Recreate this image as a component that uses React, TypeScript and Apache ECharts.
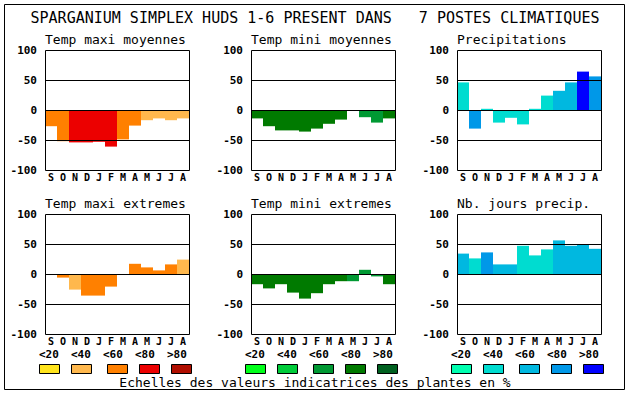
import React, { useEffect, useRef } from 'react';
import * as echarts from 'echarts';

const MONTHS = ['S', 'O', 'N', 'D', 'J', 'F', 'M', 'A', 'M', 'J', 'J', 'A'];
const MAIN_TITLE = 'SPARGANIUM SIMPLEX HUDS 1-6 PRESENT DANS   7 POSTES CLIMATIQUES';
const PANEL_TITLES = [
  'Temp maxi moyennes',
  'Temp mini moyennes',
  'Precipitations',
  'Temp maxi extremes',
  'Temp mini extremes',
  'Nb. jours precip.',
];
const CAPTION = 'Echelles des valeurs indicatrices des plantes en %';
const LEGEND_LABELS = ['<20', '<40', '<60', '<80', '>80'];

// values (percent) and class index (0..4 -> <20 ... >80)
const tempMaxiMoy = [-27, -52, -54, -54, -53, -61, -49, -26, -17, -14, -17, -14];
const tempMaxiMoyCls = [2, 2, 3, 3, 3, 3, 2, 2, 1, 1, 1, 1];
const tempMiniMoy = [-14, -27, -34, -34, -36, -31, -23, -16, 0, -12, -21, -14];
const tempMiniMoyCls = [3, 3, 3, 3, 3, 3, 3, 3, 3, 2, 2, 3];
const precip = [46, -31, 2, -21, -13, -24, 2, 24, 32, 46, 64, 56];
const precipCls = [1, 3, 1, 1, 1, 1, 1, 1, 2, 2, 4, 3];
const tempMaxiExt = [0, -6, -26, -36, -36, -21, 0, 17, 11, 6, 16, 24];
const tempMaxiExtCls = [2, 2, 1, 2, 2, 2, 2, 2, 2, 2, 2, 1];
const tempMiniExt = [-17, -24, -17, -31, -41, -32, -17, -12, -12, 7, -4, -17];
const tempMiniExtCls = [3, 3, 3, 3, 3, 3, 3, 3, 2, 2, 2, 3];
const nbJours = [34, 26, 36, 16, 16, 47, 31, 41, 56, 47, 49, 42];
const nbJoursCls = [2, 1, 3, 2, 2, 1, 1, 1, 2, 2, 2, 2];

const ORANGES = ['#ffe41c', '#ffb84d', '#ff8000', '#ec0000', '#b00e00'];
const GREENS = ['#00ff1a', '#00cc3a', '#009933', '#007a00', '#006020'];
const BLUES = ['#00ffb0', '#00dcd0', '#00b8e0', '#0098e8', '#0000ff'];

const PANEL_VALUES = [tempMaxiMoy, tempMiniMoy, precip, tempMaxiExt, tempMiniExt, nbJours];
const PANEL_CLASSES = [tempMaxiMoyCls, tempMiniMoyCls, precipCls, tempMaxiExtCls, tempMiniExtCls, nbJoursCls];
const PANEL_PALETTES = [ORANGES, GREENS, BLUES, ORANGES, GREENS, BLUES];
const GROUP_PALETTES = [ORANGES, GREENS, BLUES];

// layout
const COL_LEFT = [45, 251, 457];
const ROW_TOP = [50, 214];
const PW = 144;
const PH = 120;
const MONO = '"DejaVu Sans Mono", "Liberation Mono", monospace';
const SWATCH_OFFSETS = [0, 32, 68, 100, 132];
const LABEL_OFFSETS = [0, 32, 64, 96, 128];

export default function App() {
  const ref = useRef<HTMLDivElement>(null);

  useEffect(() => {
    if (!ref.current) return;
    const chart = echarts.init(ref.current, undefined, { renderer: 'svg' });

    const grids: any[] = [];
    const xAxes: any[] = [];
    const yAxes: any[] = [];
    const series: any[] = [];
    const graphics: any[] = [];

    graphics.push({
      type: 'rect',
      shape: { x: 4.5, y: 4.5, width: 620, height: 385 },
      style: { fill: 'none', stroke: '#000', lineWidth: 1 },
      z: 100,
    });
    graphics.push({
      type: 'text',
      x: 315,
      y: 18,
      style: {
        text: MAIN_TITLE,
        font: `15px ${MONO}`,
        fill: '#000',
        align: 'center',
        verticalAlign: 'middle',
        textAlign: 'center',
        textVerticalAlign: 'middle',
      },
      z: 100,
    });

    for (let i = 0; i < 6; i++) {
      const left = COL_LEFT[i % 3];
      const top = ROW_TOP[Math.floor(i / 3)];
      grids.push({ left, top, width: PW, height: PH, containLabel: false });
      xAxes.push({
        type: 'category',
        gridIndex: i,
        data: MONTHS,
        axisTick: { show: false },
        axisLine: { show: false },
        splitLine: { show: false },
        axisLabel: {
          interval: 0,
          margin: 2,
          color: '#000',
          fontFamily: MONO,
          fontWeight: 'bold',
          fontSize: 10,
        },
      });
      yAxes.push({
        type: 'value',
        gridIndex: i,
        min: -100,
        max: 100,
        interval: 50,
        axisTick: { show: false },
        axisLine: { show: false },
        splitLine: { show: false },
        axisLabel: {
          margin: 8,
          color: '#000',
          fontFamily: MONO,
          fontWeight: 'bold',
          fontSize: 11,
        },
      });
      const pal = PANEL_PALETTES[i];
      const cls = PANEL_CLASSES[i];
      series.push({
        type: 'bar',
        xAxisIndex: i,
        yAxisIndex: i,
        barWidth: '100%',
        barCategoryGap: 0,
        silent: true,
        data: PANEL_VALUES[i].map((v, j) => ({ value: v, itemStyle: { color: pal[cls[j]] } })),
        markLine: {
          silent: true,
          symbol: ['none', 'none'],
          label: { show: false },
          lineStyle: { color: '#000', width: 1, type: 'solid' },
          emphasis: { disabled: true },
          data: [{ yAxis: 50 }, { yAxis: 0 }, { yAxis: -50 }],
        },
      });
      graphics.push({
        type: 'rect',
        shape: { x: left + 0.5, y: top + 0.5, width: PW, height: PH },
        style: { fill: 'none', stroke: '#000', lineWidth: 1 },
        z: 100,
      });
      graphics.push({
        type: 'text',
        x: left,
        y: top - 11,
        style: {
          text: PANEL_TITLES[i],
          font: `13px ${MONO}`,
          fill: '#000',
          align: 'left',
          verticalAlign: 'middle',
          textAlign: 'left',
          textVerticalAlign: 'middle',
        },
        z: 100,
      });
    }

    // legend groups
    for (let g = 0; g < 3; g++) {
      const base = COL_LEFT[g] - 6;
      for (let k = 0; k < 5; k++) {
        graphics.push({
          type: 'text',
          x: base + LABEL_OFFSETS[k],
          y: 354,
          style: {
            text: LEGEND_LABELS[k],
            font: `bold 11px ${MONO}`,
            fill: '#000',
            align: 'left',
            verticalAlign: 'middle',
            textAlign: 'left',
            textVerticalAlign: 'middle',
          },
          z: 100,
        });
        graphics.push({
          type: 'rect',
          shape: { x: base + SWATCH_OFFSETS[k] + 0.5, y: 364.5, width: 20, height: 9 },
          style: { fill: GROUP_PALETTES[g][k], stroke: '#000', lineWidth: 1 },
          z: 100,
        });
      }
    }
    graphics.push({
      type: 'text',
      x: 315,
      y: 382,
      style: {
        text: CAPTION,
        font: `13px ${MONO}`,
        fill: '#000',
        align: 'center',
        verticalAlign: 'middle',
        textAlign: 'center',
        textVerticalAlign: 'middle',
      },
      z: 100,
    });

    chart.setOption({
      animation: false,
      backgroundColor: '#fff',
      grid: grids,
      xAxis: xAxes,
      yAxis: yAxes,
      series,
      graphic: graphics,
    });

    return () => chart.dispose();
  }, []);

  return (
    <div
      ref={ref}
      style={{ position: 'fixed', left: 0, top: 0, width: 630, height: 394, background: '#fff' }}
    />
  );
}
